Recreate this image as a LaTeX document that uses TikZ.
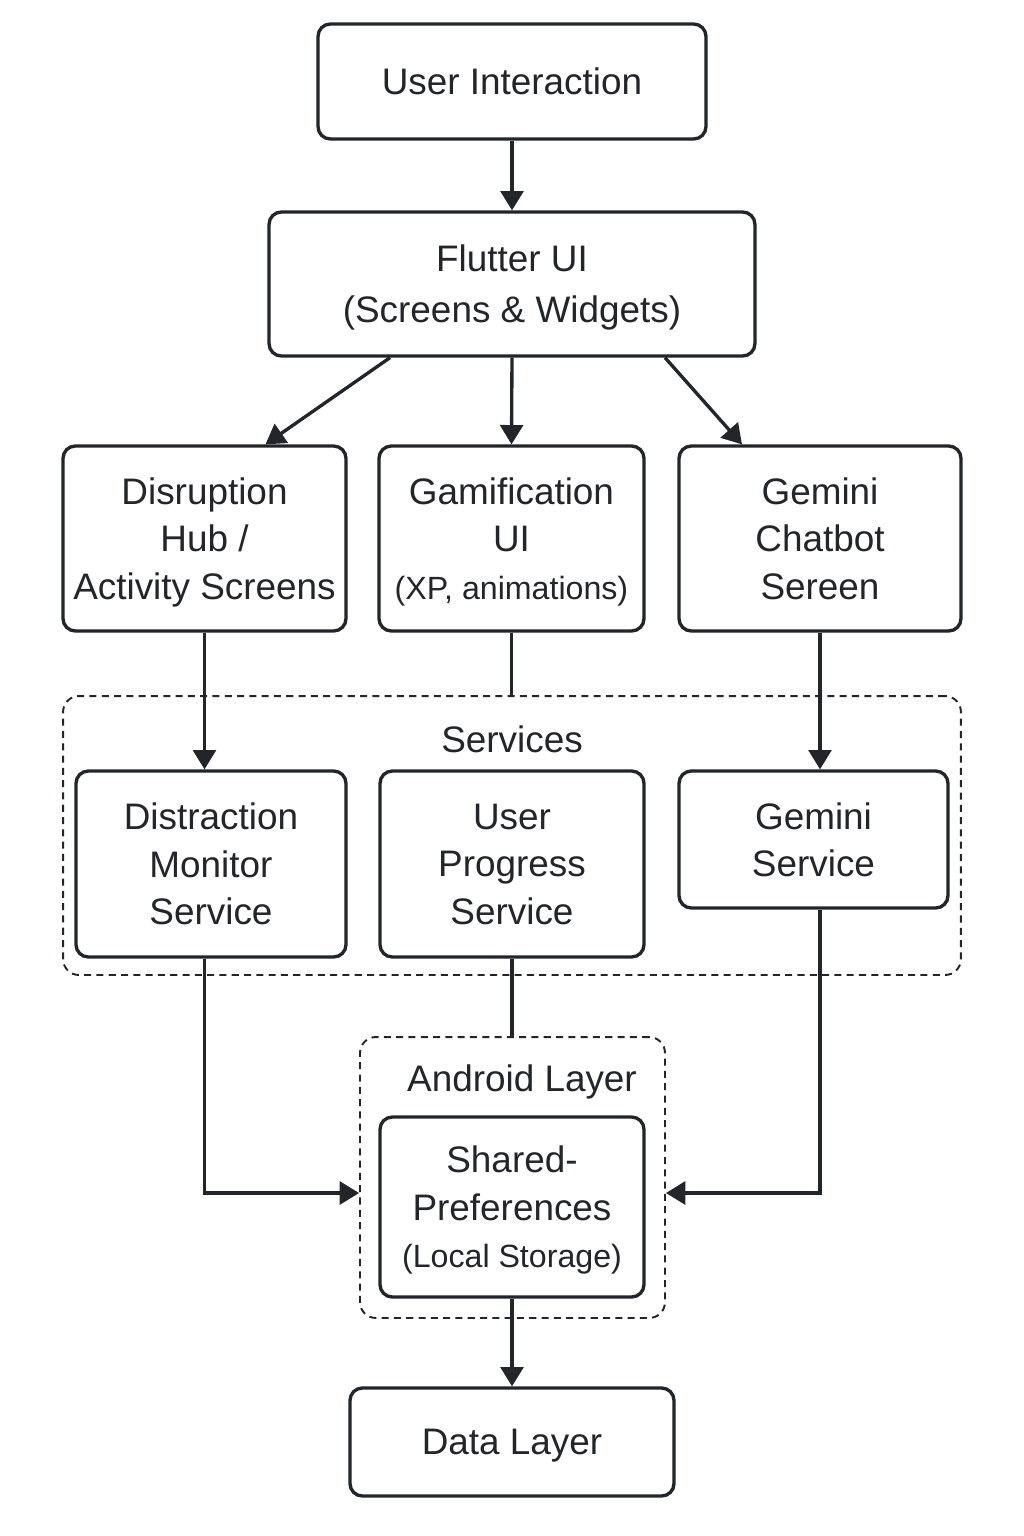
\documentclass[tikz,border=0pt]{standalone}
\usepackage{fontspec}
\setmainfont{Liberation Sans}
\usetikzlibrary{arrows.meta,calc}
\definecolor{ink}{RGB}{34,37,42}
\begin{document}
\begin{tikzpicture}[x=0.02cm, y=-0.02cm]
    \tikzstyle{box}=[draw=ink, line width=1.9pt, rounded corners=7pt, align=center, text=ink, inner sep=0pt, text depth=0pt, font=\fontsize{21}{27}\selectfont]
    \tikzstyle{group}=[draw=ink, line width=1.1pt, dash pattern=on 4pt off 3pt, rounded corners=9pt, inner sep=0pt]
    \tikzstyle{title}=[text=ink, font=\fontsize{21}{27}\selectfont]
    \tikzstyle{arr}=[draw=ink, line width=1.9pt, -{Triangle[width=13pt,length=11pt]}]
    \tikzstyle{link}=[draw=ink, line width=1.9pt]

    \fill [white] (0, 0) rectangle (1024, 1536);
    \useasboundingbox (0, 0) rectangle (1024, 1536);

    % dashed groups
    \node (services) at (512, 835.5) [group, minimum width=17.96cm, minimum height=5.58cm] {};
    \node (android) at (512.5, 1177.5) [group, minimum width=6.1cm, minimum height=5.62cm] {};
    \node (srv-label) at (512, 739) [title] {Services};
    \node (and-label) at (522, 1082) [title] {Android Layer};

    \node (ui) at (512, 81.5) [box, minimum width=7.76cm, minimum height=2.3cm] {User Interaction};
    \node (flutter) at (512, 284) [box, minimum width=9.72cm, minimum height=2.88cm, font=\fontsize{21}{29}\selectfont] {Flutter UI\\(Screens \& Widgets)};

    \node (hub) at (204.5, 538.5) [box, minimum width=5.66cm, minimum height=3.7cm] {Disruption\\Hub /\\Activity Screens};
    \node (gam) at (511.5, 538.5) [box, minimum width=5.3cm, minimum height=3.7cm] {Gamification\\UI\\{\fontsize{18.3}{22}\selectfont (XP, animations)}};
    \node (chat) at (820, 538.5) [box, minimum width=5.64cm, minimum height=3.7cm] {Gemini\\Chatbot\\Sereen};

    \node (monitor) at (211, 864) [box, minimum width=5.4cm, minimum height=3.72cm] {Distraction\\Monitor\\Service};
    \node (progress) at (512, 864) [box, minimum width=5.28cm, minimum height=3.72cm] {User\\Progress\\Service};
    \node (gemini) at (813.5, 839.5) [box, minimum width=5.38cm, minimum height=2.74cm] {Gemini\\Service};

    \node (prefs) at (512, 1207) [box, minimum width=5.28cm, minimum height=3.6cm] {Shared-\\Preferences\\{\fontsize{18.3}{22}\selectfont (Local Storage)}};
    \node (data) at (512, 1442) [box, minimum width=6.48cm, minimum height=2.16cm] {Data Layer};

    \draw [arr] (ui.south) to (flutter.north);
    \draw [arr] ($(flutter.south)+(-122, 0)$) to ($(hub.north)+(61, 0)$);
    \draw [arr] (flutter.south) to (gam.north);
    \draw [arr] ($(flutter.south)+(153, 0)$) to ($(chat.north)+(-78, 0)$);

    \draw [arr] (hub.south) to (hub.south |- monitor.north);
    \draw [link] (gam.south) to (gam.south |- services.north);
    \draw [arr] (chat.south) to (chat.south |- gemini.north);

    \draw [arr] (monitor.south -| hub.south) |- (android.west |- 0, 1193);
    \draw [link] (progress.south) to (progress.south |- android.north);
    \draw [arr] (gemini.south -| chat.south) |- (android.east |- 0, 1193);

    \draw [arr] (prefs.south) to (data.north);
\end{tikzpicture}
\end{document}
